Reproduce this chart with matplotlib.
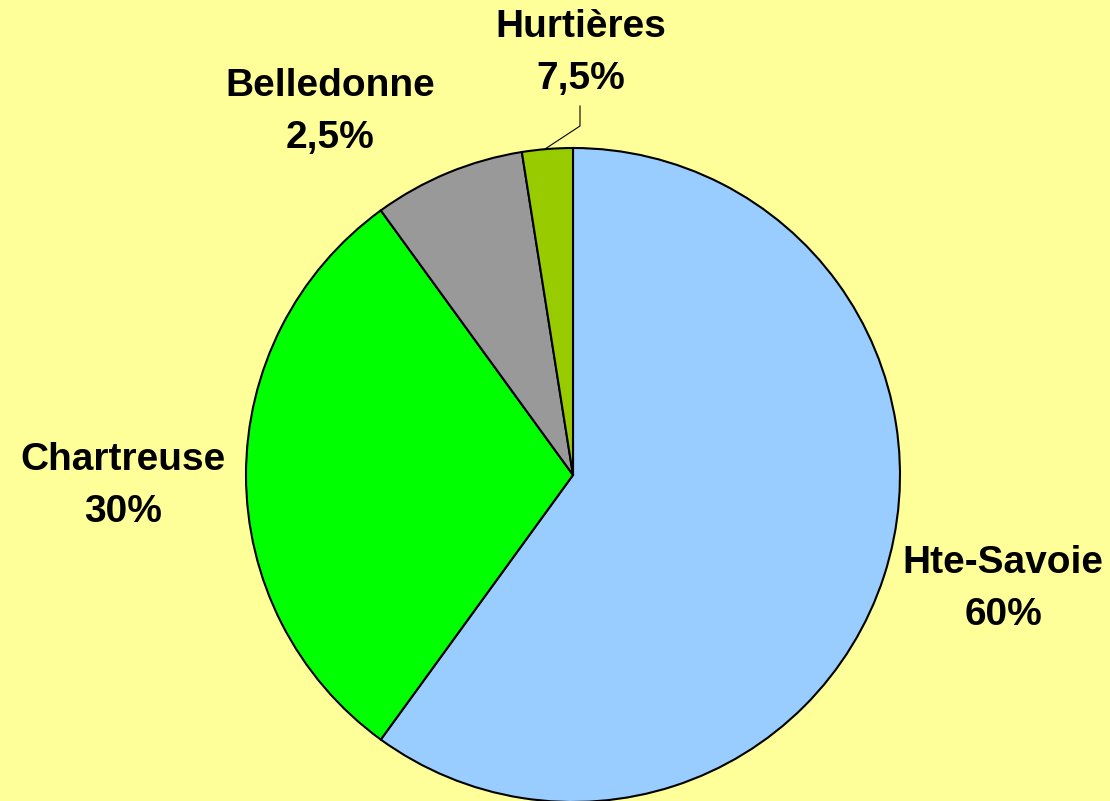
import matplotlib.pyplot as plt

# data
regions = ["Hte-Savoie", "Chartreuse", "Belledonne", "Hurtières"]
shares = [60, 30, 7.5, 2.5]
pct_labels = ["60%", "30%", "2,5%", "7,5%"]
colors = ["#99CCFF", "#00FF00", "#999999", "#99CC00"]

plt.rcParams['font.family'] = ['Liberation Sans', 'DejaVu Sans']

W, H = 1110, 801
fig = plt.figure(figsize=(W / 100, H / 100), dpi=100, facecolor="#FFFF99")
ax = fig.add_axes([0, 0, 1, 1])
ax.set_facecolor("#FFFF99")

ax.pie(shares, colors=colors, startangle=90, counterclock=False,
       center=(573, H - 475), radius=327,
       wedgeprops=dict(edgecolor="black", linewidth=1.5))

# pie() resets limits, so set them afterwards
ax.set_xlim(0, W)
ax.set_ylim(0, H)
ax.axis("off")

# label positions (pixel centres, y from top)
label_pos = [(1003, 589), (123, 486), (330, 112), (581, 53)]
for name, pct, (x, y) in zip(regions, pct_labels, label_pos):
    ax.text(x, H - y, name + "\n" + pct, ha="center", va="center",
            fontsize=28, fontweight="bold", linespacing=1.55)

# leader line for Hurtières
ax.plot([580, 580, 545], [H - 106, H - 126, H - 149], color="black", linewidth=0.8)

fig.savefig("out.png", dpi=100, facecolor=fig.get_facecolor())
